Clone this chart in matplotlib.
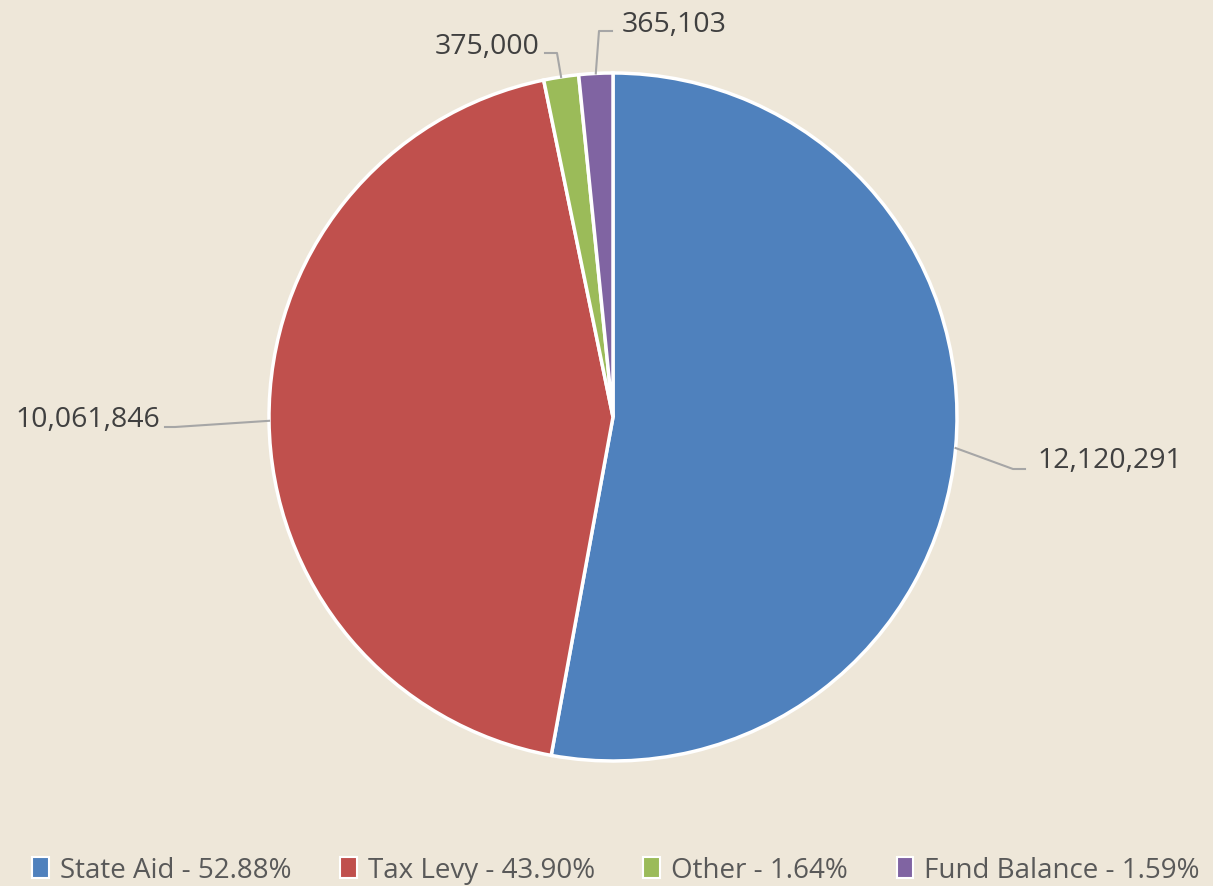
import matplotlib.pyplot as plt
import numpy as np
from matplotlib.patches import Patch

# datos del grafico
categorias = ['State Aid', 'Tax Levy', 'Other', 'Fund Balance']
montos = [12120291, 10061846, 375000, 365103]
porcentajes = ['52.88%', '43.90%', '1.64%', '1.59%']
colores = ['#4F81BD', '#C0504D', '#9BBB59', '#8064A2']

fondo = '#EEE7D9'
plt.rcParams['font.family'] = ['Open Sans', 'DejaVu Sans']

W, H = 1213, 887
fig = plt.figure(figsize=(12.13, 8.87), dpi=100, facecolor=fondo)
ax = fig.add_axes([0, 0, 1, 1])
ax.set_facecolor(fondo)

# coordenadas en pixeles (y hacia arriba)
cx, cy, r = 613, H - 418, 344
wedges, _ = ax.pie(montos, colors=colores, startangle=90, counterclock=False,
                   center=(cx, cy), radius=r, frame=True,
                   wedgeprops=dict(edgecolor='white', linewidth=2.5))
ax.set_xlim(0, W)
ax.set_ylim(0, H)
ax.set_aspect('equal')
ax.axis('off')

# posiciones de las etiquetas: codo de la linea y texto (y medido desde arriba)
codos = [(1013, 470, 1025), (175, 428, 165), (557, 54, 545), (599, 32, 612)]
textos = [(1037, 461, 'left'), (160, 420, 'right'), (540, 47, 'right'), (622, 25, 'left')]

for w, monto, codo, txt in zip(wedges, montos, codos, textos):
    ang = np.deg2rad((w.theta1 + w.theta2) / 2)
    ex = cx + r * np.cos(ang)
    ey = cy + r * np.sin(ang)
    ax.plot([ex, codo[0], codo[2]], [ey, H - codo[1], H - codo[1]], color='#A6A6A6', lw=1.5)
    ax.text(txt[0], H - txt[1], f'{monto:,}', ha=txt[2], va='center',
            fontsize=20.5, color='#404040')

handles = [Patch(facecolor=c, edgecolor='white', linewidth=1.5) for c in colores]
etiquetas = [f'{c} - {p}' for c, p in zip(categorias, porcentajes)]
ax.legend(handles, etiquetas, loc='center', bbox_to_anchor=(616 / W, 1 - 871 / H),
          ncol=4, frameon=False, fontsize=20, labelcolor='#595959',
          handlelength=0.6, handleheight=0.8, handletextpad=0.4, columnspacing=1.75)

fig.savefig('out.png', dpi=100, facecolor=fondo)
